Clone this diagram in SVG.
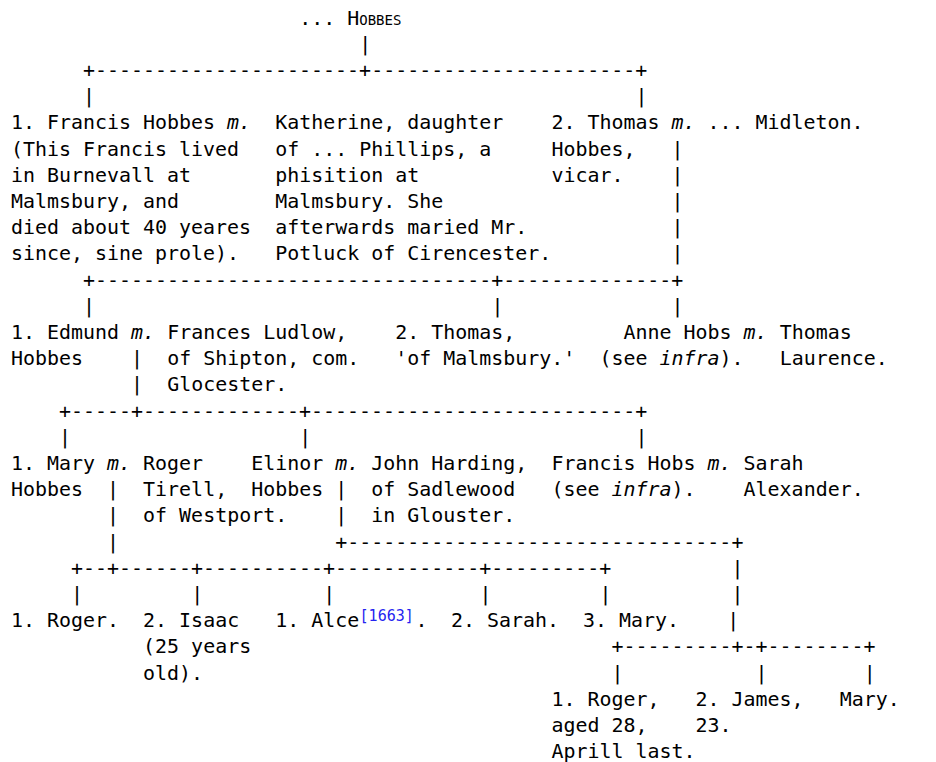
<svg xmlns="http://www.w3.org/2000/svg" width="936" height="762" viewBox="0 0 936 762">
<style>
text{font-family:"DejaVu Sans Mono","Liberation Mono",monospace;font-size:19.95px;fill:#000}
.i{font-style:italic}
.sc{font-variant:small-caps}
.sup{font-size:15px;fill:#2424f0}
</style>
<rect width="936" height="762" fill="#fff"/>
<g id="connectors">
<text x="359.29" y="50.7">|</text>
<text x="83.06" y="76.9">+----------------------+----------------------+</text>
<text x="83.06" y="103.1">|</text><text x="635.52" y="103.1">|</text>
<text x="671.55" y="155.5">|</text>
<text x="671.55" y="181.7">|</text>
<text x="671.55" y="207.9">|</text>
<text x="671.55" y="234.1">|</text>
<text x="671.55" y="260.3">|</text>
<text x="83.06" y="286.5">+---------------------------------+--------------+</text>
<text x="83.06" y="312.7">|</text><text x="491.4" y="312.7">|</text><text x="671.55" y="312.7">|</text>
<text x="131.1" y="365.1">|</text>
<text x="131.1" y="391.3">|</text>
<text x="59.04" y="417.5">+-----+-------------+---------------------------+</text>
<text x="59.04" y="443.7">|</text><text x="299.24" y="443.7">|</text><text x="635.52" y="443.7">|</text>
<text x="107.08" y="496.1">|</text><text x="335.27" y="496.1">|</text>
<text x="107.08" y="522.3">|</text><text x="335.27" y="522.3">|</text>
<text x="107.08" y="548.5">|</text><text x="335.27" y="548.5">+--------------------------------+</text>
<text x="71.05" y="574.7">+--+------+----------+------------+---------+</text><text x="731.6" y="574.7">|</text>
<text x="71.05" y="600.9">|</text><text x="191.15" y="600.9">|</text><text x="323.26" y="600.9">|</text><text x="479.39" y="600.9">|</text><text x="599.49" y="600.9">|</text><text x="731.6" y="600.9">|</text>
<text x="727.3" y="627.1">|</text>
<text x="611.5" y="653.3">+---------+-+--------+</text>
<text x="611.5" y="679.5">|</text><text x="755.62" y="679.5">|</text><text x="863.71" y="679.5">|</text>
</g>
<g id="hobbes"><text class="sc" x="299.24" y="24.5">... Hobbes</text></g>
<g id="francis">
<text x="11" y="129.3">1. Francis Hobbes <tspan class="i">m.</tspan></text>
<text x="11" y="155.5">(This Francis lived</text>
<text x="11" y="181.7">in Burnevall at</text>
<text x="11" y="207.9">Malmsbury, and</text>
<text x="11" y="234.1">died about 40 yeares</text>
<text x="11" y="260.3">since, sine prole).</text>
</g>
<g id="katherine">
<text x="275.22" y="129.3">Katherine, daughter</text>
<text x="275.22" y="155.5">of ... Phillips, a</text>
<text x="275.22" y="181.7">phisition at</text>
<text x="275.22" y="207.9">Malmsbury. She</text>
<text x="275.22" y="234.1">afterwards maried Mr.</text>
<text x="275.22" y="260.3">Potluck of Cirencester.</text>
</g>
<g id="thomas-vicar">
<text x="551.45" y="129.3">2. Thomas <tspan class="i">m.</tspan></text>
<text x="551.45" y="155.5">Hobbes,</text>
<text x="551.45" y="181.7">vicar.</text>
</g>
<g id="midleton"><text x="707.58" y="129.3">... Midleton.</text></g>
<g id="edmund">
<text x="11" y="338.9">1. Edmund <tspan class="i">m.</tspan></text>
<text x="11" y="365.1">Hobbes</text>
</g>
<g id="frances">
<text x="167.13" y="338.9">Frances Ludlow,</text>
<text x="167.13" y="365.1">of Shipton, com.</text>
<text x="167.13" y="391.3">Glocester.</text>
</g>
<g id="thomas-malmsbury">
<text x="395.32" y="338.9">2. Thomas,</text>
<text x="395.32" y="365.1">'of Malmsbury.'</text>
</g>
<g id="anne">
<text x="623.51" y="338.9">Anne Hobs <tspan class="i">m.</tspan></text>
<text x="599.49" y="365.1">(see <tspan class="i">infra</tspan>).</text>
</g>
<g id="laurence">
<text x="779.64" y="338.9">Thomas</text>
<text x="779.64" y="365.1">Laurence.</text>
</g>
<g id="mary">
<text x="11" y="469.9">1. Mary <tspan class="i">m.</tspan></text>
<text x="11" y="496.1">Hobbes</text>
</g>
<g id="roger-tirell">
<text x="143.11" y="469.9">Roger</text>
<text x="143.11" y="496.1">Tirell,</text>
<text x="143.11" y="522.3">of Westport.</text>
</g>
<g id="elinor">
<text x="251.2" y="469.9">Elinor <tspan class="i">m.</tspan></text>
<text x="251.2" y="496.1">Hobbes</text>
</g>
<g id="harding">
<text x="371.3" y="469.9">John Harding,</text>
<text x="371.3" y="496.1">of Sadlewood</text>
<text x="371.3" y="522.3">in Glouster.</text>
</g>
<g id="francis-hobs">
<text x="551.45" y="469.9">Francis Hobs <tspan class="i">m.</tspan></text>
<text x="551.45" y="496.1">(see <tspan class="i">infra</tspan>).</text>
</g>
<g id="sarah-alexander">
<text x="743.61" y="469.9">Sarah</text>
<text x="743.61" y="496.1">Alexander.</text>
</g>
<g id="roger-1"><text x="11" y="627.1">1. Roger.</text></g>
<g id="isaac">
<text x="143.11" y="627.1">2. Isaac</text>
<text x="143.11" y="653.3">(25 years</text>
<text x="143.11" y="679.5">old).</text>
</g>
<g id="alce">
<text x="275.22" y="627.1">1. Alce</text>
<text class="sup" x="359.6" y="620.5">[1663]</text>
<text x="415.5" y="627.1">.</text>
</g>
<g id="sarah"><text x="451" y="627.1">2. Sarah.</text></g>
<g id="mary-3"><text x="583.1" y="627.1">3. Mary.</text></g>
<g id="roger-2">
<text x="551.45" y="705.7">1. Roger,</text>
<text x="551.45" y="731.9">aged 28,</text>
<text x="551.45" y="758.1">Aprill last.</text>
</g>
<g id="james">
<text x="695.57" y="705.7">2. James,</text>
<text x="695.57" y="731.9">23.</text>
</g>
<g id="mary-4"><text x="839.69" y="705.7">Mary.</text></g>
</svg>
